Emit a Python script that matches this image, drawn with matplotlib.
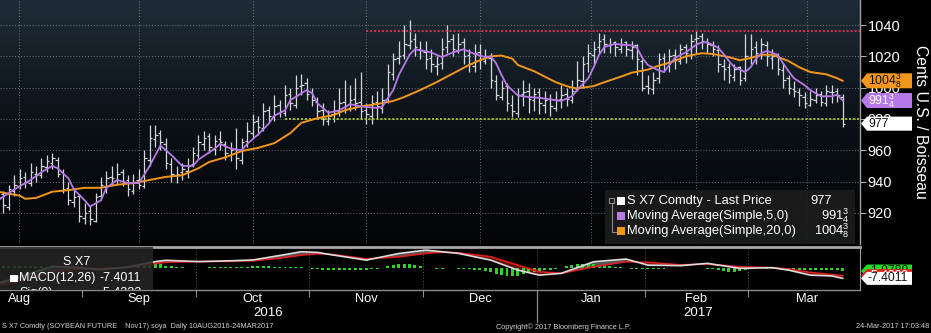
import numpy as np
import matplotlib.pyplot as plt
import matplotlib.transforms as mtransforms
from matplotlib.colors import LinearSegmentedColormap
from matplotlib.patches import Rectangle, Polygon

plt.rcParams['font.family'] = ['Liberation Sans', 'DejaVu Sans']

# S X7 Comdty daily bars, 10-Aug-2016 .. 24-Mar-2017, one row per month
month_names = ['Aug', 'Sep', 'Oct', 'Nov', 'Dec', 'Jan', 'Feb', 'Mar']
month_sessions = [16, 21, 21, 21, 21, 20, 19, 18]

opens = [
    935, 932, 924, 934, 937, 943, 939, 945, 944, 949, 952, 954, 946, 936, 927, 931,
    917, 921, 915, 931, 937, 943, 941, 946, 941, 934, 941, 937, 954, 967, 971, 964, 951, 944, 946, 947, 951,
    957, 964, 969, 961, 967, 964, 957, 961, 954, 966, 971, 979, 974, 986, 981, 989, 984, 996, 989, 1001, 1003,
    997, 991, 986, 979, 983, 985, 991, 987, 993, 991, 986, 982, 991, 987, 993, 1009, 1019, 1021, 1027, 1031, 1025,
    1023, 1019, 1014, 1016, 1026, 1031, 1024, 1029, 1021, 1014, 1023, 1017, 1019, 1004, 994, 1001, 989, 984, 996, 998, 992,
    997, 989, 993, 987, 993, 996, 992, 999, 1004, 1016, 1021, 1026, 1031, 1027, 1029, 1025, 1029, 1024, 1027, 1017,
    1001, 999, 1006, 1019, 1014, 1021, 1017, 1026, 1021, 1031, 1033, 1029, 1027, 1024, 1014, 1013, 1007, 1013, 1006,
    1019, 1026, 1021, 1027, 1019, 1021, 1011, 1006, 999, 997, 994, 989, 992, 996, 990, 997, 998, 994,
]
highs = [
    940, 934, 938, 944, 948, 946, 952, 950, 955, 957, 958, 956, 948, 940, 936, 932,
    926, 925, 933, 943, 947, 950, 952, 948, 944, 945, 948, 960, 976, 976, 973, 968, 955, 950, 952, 955, 962,
    970, 972, 971, 970, 972, 966, 965, 974, 968, 978, 983, 982, 990, 988, 995, 992, 1002, 1000, 1008, 1009, 1006,
    1000, 994, 990, 986, 992, 1000, 1005, 1002, 1006, 1010, 990, 995, 998, 1000, 1015, 1022, 1030, 1040, 1043, 1035, 1030,
    1030, 1025, 1020, 1032, 1040, 1034, 1035, 1032, 1025, 1028, 1028, 1025, 1022, 1008, 1005, 1003, 995, 1000, 1005, 1003, 1000,
    1000, 998, 996, 998, 1002, 1000, 1005, 1017, 1020, 1028, 1030, 1035, 1034, 1032, 1030, 1032, 1030, 1030, 1028, 1018,
    1008, 1010, 1022, 1022, 1025, 1025, 1028, 1028, 1034, 1036, 1035, 1032, 1030, 1027, 1018, 1016, 1015, 1014, 1034,
    1034, 1030, 1032, 1030, 1025, 1022, 1015, 1008, 1004, 1000, 997, 998, 1000, 998, 1002, 1002, 1000, 996,
]
lows = [
    926, 920, 922, 931, 935, 936, 937, 940, 942, 946, 948, 943, 933, 925, 924, 914,
    913, 912, 914, 928, 933, 938, 938, 937, 931, 932, 935, 936, 950, 962, 960, 948, 940, 939, 941, 942, 949,
    955, 960, 958, 957, 960, 954, 953, 948, 951, 962, 968, 970, 972, 978, 979, 981, 982, 986, 987, 995, 992,
    988, 980, 976, 976, 978, 982, 984, 985, 986, 980, 977, 977, 980, 984, 990, 1005, 1015, 1018, 1025, 1020, 1018,
    1012, 1010, 1008, 1012, 1022, 1020, 1022, 1015, 1010, 1010, 1012, 1015, 1000, 992, 992, 985, 981, 981, 988, 984, 985,
    983, 984, 982, 985, 987, 988, 990, 998, 1000, 1010, 1015, 1022, 1022, 1022, 1020, 1022, 1020, 1018, 1008, 998,
    996, 996, 1003, 1010, 1010, 1012, 1015, 1016, 1018, 1022, 1025, 1022, 1020, 1010, 1005, 1003, 1004, 1002, 1004,
    1015, 1015, 1018, 1014, 1012, 1008, 1000, 996, 994, 988, 987, 988, 990, 988, 988, 990, 991, 975,
]
closes = [
    930, 925, 935, 938, 942, 940, 946, 944, 950, 953, 955, 945, 935, 928, 930, 918,
    920, 916, 930, 938, 942, 942, 945, 940, 935, 940, 938, 955, 968, 970, 965, 952, 945, 945, 948, 950, 958,
    965, 968, 962, 966, 965, 958, 960, 955, 965, 972, 978, 975, 985, 982, 988, 985, 995, 990, 1000, 1002, 996,
    992, 985, 980, 982, 984, 990, 988, 992, 990, 985, 983, 990, 988, 992, 1010, 1018, 1020, 1028, 1030, 1026, 1024,
    1018, 1015, 1015, 1025, 1030, 1025, 1028, 1020, 1015, 1022, 1018, 1020, 1005, 995, 1000, 990, 985, 995, 997, 993, 996,
    990, 992, 988, 992, 995, 993, 998, 1005, 1015, 1022, 1025, 1030, 1028, 1028, 1026, 1028, 1025, 1026, 1018, 1000,
    1000, 1005, 1018, 1015, 1020, 1018, 1025, 1022, 1030, 1032, 1030, 1028, 1025, 1015, 1012, 1008, 1012, 1005, 1020,
    1025, 1022, 1028, 1020, 1020, 1012, 1005, 1000, 998, 995, 990, 993, 995, 991, 998, 997, 995, 977,
]

# simple moving averages (5 and 20 sessions), sampled by session number
ma5_bar = [0, 3, 6, 8, 10, 11, 13, 14, 16, 17, 19, 20, 22, 24, 26, 28, 30, 32, 34, 36, 37,
           40, 41, 43, 45, 46, 48, 50, 51, 53, 54, 57, 58, 59, 61, 63, 65, 67, 70, 71, 73,
           74, 76, 77, 80, 82, 84, 86, 88, 90, 91, 92, 93, 94, 96, 98, 100, 102, 104, 105,
           106, 107, 109, 110, 111, 112, 114, 115, 117, 118, 119, 120, 122, 123, 124, 125,
           127, 129, 130, 131, 133, 134, 135, 136, 138, 139, 140, 141, 142, 144, 145, 146,
           147, 149, 150, 151, 152, 154, 155, 156]
ma5_val = [928, 935, 941, 946, 950, 948.5, 942, 935, 928, 924, 928, 936, 941, 939, 939, 950, 963, 957, 950, 950, 954,
           961, 964, 961, 960, 964, 970, 977, 982, 985.5, 992, 998.5, 996.5, 990, 984, 985.5, 989.5, 988, 987, 988, 998.5,
           1008, 1021, 1024.5, 1022.5, 1019.5, 1022.5, 1024.5, 1021.5, 1019.5, 1020, 1015.5, 1008, 1001.5, 995, 994, 993.5, 992.5, 991.5, 993,
           994.5, 998.5, 1006, 1013, 1021, 1026, 1028, 1027.5, 1027, 1025.5, 1019, 1014.5, 1011, 1010, 1014.5, 1019,
           1022.5, 1027.5, 1029, 1029, 1025.5, 1021.5, 1017, 1013, 1010, 1013, 1018.5, 1022, 1023.5, 1021, 1015.5, 1010.5,
           1006, 1001.5, 998.5, 996.5, 994.5, 994.5, 995.5, 991.75]
ma20_bar = [0, 4, 5, 7, 10, 13, 16, 19, 22, 25, 28, 31, 34, 37, 39, 42, 45, 48, 51, 54, 56,
            59, 62, 64, 67, 70, 73, 75, 78, 81, 84, 87, 89, 91, 93, 95, 96, 99, 101, 103, 105,
            106, 107, 110, 112, 115, 117, 120, 122, 125, 127, 130, 132, 135, 137, 139, 141, 143,
            146, 148, 150, 153, 155, 156]
ma20_val = [933.5, 931, 929, 929.5, 933.5, 934.5, 936, 936, 938, 939, 941, 943, 944, 948.5, 952.5, 955.5, 959.5, 961.5, 964.5, 971, 977.5,
            980.5, 982.5, 985.5, 988, 989.5, 991.5, 994, 998.5, 1003.5, 1009, 1014.5, 1017.5, 1020, 1020.5, 1018.5, 1014.5, 1010.5, 1007, 1003.5, 1001,
            1000, 999.5, 1001, 1003.5, 1007, 1009.5, 1011.5, 1014, 1017, 1020, 1022, 1021.5, 1019.5, 1017.5, 1019, 1021, 1021,
            1017, 1013, 1010, 1008.5, 1006, 1004.375]

# MACD(12,26) and signal(9), sampled by session number, plus daily histogram
macd_bar = [0, 5, 10, 15, 19, 24, 29, 31, 37, 42, 47, 52, 56, 59, 62, 68, 74, 79, 82, 85,
            91, 96, 100, 104, 110, 116, 120, 126, 131, 137, 143, 146, 150, 154, 156]
macd_val = [-11, -5, 1.5, 0.5, -1, 1, 5, 6, 5, 5.5, 6.2, 9.5, 12.3, 11.8, 9.8, 6.1, 11, 13.5, 12.3, 11.1,
            6.1, -1.3, -5, -3.7, 4.9, 6.9, 2.4, 2, 3.7, 0, 0.5, -1.3, -5, -5.6, -7.4011]
sig_val = [-12.4, -8.5, -3, -0.5, 0, 0.5, 3.5, 4.5, 5, 5.2, 5.6, 7.5, 9.8, 10.8, 10.2, 7, 8.5, 11.1, 12, 11.5,
           8.6, 2.4, -2.5, -3.7, 1.2, 4.9, 4.4, 2.6, 3.2, 1.2, 0.5, -0.5, -3, -4.6, -5.4222]
hist = [
    1.5, 1.5, 2, 2, 2, 2, 2, 1.5, 1.5, 1, 1, 0.8, 0.8, 0.6, 0.6, 0.6,
    0.6, 0.6, 0.6, 0.6, 0.8, 0.8, 1, 1, 1.2, 1.5, 2.5, 3.5, 4, 3.5, 3, 2, 1.5, 1, 0.8, 0.6, 0.6,
    0.6, 0.6, 0.8, 0.8, 1, 1, 1, 1, 1.2, 1.2, 1.5, 1.5, 1.5, 1.5, 1.2, 1.2, 1, 1, 0.8, 0.8, 0.6,
    -0.6, -0.8, -1, -1.2, -1.2, -1.2, -1.2, -1.2, -1, -1, -1, -0.8, -0.6, 0.6, 1.5, 2.5, 3.5, 3.5, 3, 2.5, 1.5,
    0.6, 0.6, -0.6, -0.6, 0.6, 0.6, -0.6, -0.6, -0.8, -1, -1.5, -2, -3, -4, -5, -6, -6, -5.5, -4.5, -3.5, -2.5,
    -2, -1.5, -1, -0.6, 0.6, 1.5, 2.5, 3.5, 3.5, 3, 3, 2.5, 2, 1.5, 1, 0.8, 0.6, -0.6, -0.6, -0.8,
    -0.8, -0.8, -0.6, -0.6, 0.6, 0.6, 0.6, 0.6, 0.6, 0.6, 0.6, -0.6, -0.8, -1.2, -1.8, -2.5, -2.5, -2, -1.2,
    -0.6, 0.6, 0.6, -0.6, -0.6, -0.8, -1, -1.2, -1.5, -1.5, -1.5, -1.2, -1.2, -1, -1, -1, -1.2, -2,
]

# drawn trend levels: (price, first session)
resistance = (1036.5, 68)
support = (980, 53)

# positions of the month names under the chart (session units)
month_label_pos = [3.9, 26, 47, 68, 89, 109.5, 129, 149.5]

BAR = '#d2d6da'
PURPLE = '#b879e8'
ORANGE = '#f2961c'
GRID = '#8d959c'

W, H = 931, 333


def px_box(x0, y0, x1, y1):
    return [x0 / W, 1 - y1 / H, (x1 - x0) / W, (y1 - y0) / H]


def eighths(v):
    whole = int(v)
    num, den = int(round((v - whole) * 8)), 8
    if num == 0:
        return str(whole)
    while num % 2 == 0:
        num, den = num // 2, den // 2
    return r'$\mathregular{%d^{%d}_{%d}}$' % (whole, num, den)


fig = plt.figure(figsize=(W / 100, H / 100), dpi=100, facecolor='black')
ax = fig.add_axes(px_box(0, 0, 860, 244))
ax2 = fig.add_axes(px_box(0, 247, 860, 290), sharex=ax)

bars = np.arange(len(closes))
bounds = np.cumsum(month_sessions)[:-1] - 0.5
xmin, xmax = 0.36, 159.2
ymin, ymax = 900.1, 1056

# ---- price panel ----
bg = LinearSegmentedColormap.from_list('bg', ['#1f2c37', '#0b1117', '#030405'])
ax.imshow(np.linspace(0, 1, 256).reshape(-1, 1), cmap=bg, aspect='auto',
          extent=(xmin, xmax, ymin, ymax), origin='upper', zorder=0)
ax.set_xlim(xmin, xmax)
ax.set_ylim(ymin, ymax)
ax.set_facecolor('black')

ax.set_xticks(bounds)
ax.set_yticks(np.arange(920, 1041, 20))
ax.grid(True, color=GRID, linestyle=(0, (1, 2)), linewidth=0.7, alpha=0.75)
ax.set_axisbelow(True)
ax.yaxis.tick_right()
ax.tick_params(axis='y', colors='#b0b0b0', labelcolor='white', labelsize=10.5,
               length=4, width=0.8, direction='out', pad=1.5)
ax.tick_params(axis='x', length=0, labelbottom=False)
for side in ['top', 'left', 'bottom']:
    ax.spines[side].set_visible(False)
ax.spines['right'].set_color('#a0a0a0')
ax.spines['right'].set_linewidth(1)

ax.vlines(bars, lows, highs, color=BAR, lw=0.9, zorder=3)
ax.hlines(opens, bars - 0.45, bars, color=BAR, lw=0.9, zorder=3)
ax.hlines(closes, bars, bars + 0.45, color=BAR, lw=0.9, zorder=3)

ax.plot(ma20_bar, ma20_val, color=ORANGE, lw=1.4, zorder=4)
ax.plot(ma5_bar, ma5_val, color=PURPLE, lw=1.3, zorder=4)

ax.hlines(resistance[0], resistance[1], xmax, color='#d23452', lw=1.3,
          linestyles=(0, (1.2, 1)), zorder=3)
ax.hlines(support[0], support[1], xmax, color='#a6c43a', lw=1.3,
          linestyles=(0, (1.2, 1)), zorder=3)

# axis title on the far right
fig.text(921 / W, 1 - 122 / H, 'Cents U.S. / Boisseau', color='white', fontsize=11.3,
         rotation=270, ha='center', va='center')

# value tags on the price scale
tag_tr = mtransforms.blended_transform_factory(ax.transAxes, ax.transData)


def price_tag(axis, tr, v, half, face, text, tcolor, z):
    pts = [(861 / 860, v), (867 / 860, v + half), (912 / 860, v + half),
           (912 / 860, v - half), (867 / 860, v - half)]
    axis.add_patch(Polygon(pts, closed=True, facecolor=face, edgecolor='none',
                           transform=tr, clip_on=False, zorder=z))
    axis.text(868 / 860, v, text, transform=tr, ha='left', va='center',
              color=tcolor, fontsize=8.8, clip_on=False, zorder=z + 0.5)


price_tag(ax, tag_tr, ma20_val[-1], 4.8, ORANGE, eighths(ma20_val[-1]), '#111111', 20)
price_tag(ax, tag_tr, ma5_val[-1], 4.8, PURPLE, eighths(ma5_val[-1]), 'white', 21)
price_tag(ax, tag_tr, closes[-1], 4.5, 'white', eighths(closes[-1]), '#111111', 22)

# legend box
ax.add_patch(Rectangle((605 / 860, 0), 250 / 860, 54 / 244, transform=ax.transAxes,
                       facecolor='#1c1c1c', edgecolor='none', alpha=0.92, zorder=8))
ax.plot([611.5 / 860, 611.5 / 860, 616 / 860], [(244 - 203) / 244, (244 - 232) / 244, (244 - 232) / 244],
        transform=ax.transAxes, color='#8a8a8a', lw=0.8, zorder=9)
ax.add_patch(Rectangle((609 / 860, (244 - 203) / 244), 5 / 860, 5 / 244, transform=ax.transAxes,
                       facecolor='none', edgecolor='#8a8a8a', lw=0.8, zorder=9))
legend_rows = [
    ('S X7 Comdty - Last Price', eighths(closes[-1]), 'white', 832),
    ('Moving Average(Simple,5,0)', eighths(ma5_val[-1]), PURPLE, 849),
    ('Moving Average(Simple,20,0)', eighths(ma20_val[-1]), ORANGE, 849),
]
for k, (name, val, col, right) in enumerate(legend_rows):
    yp = 201 + 15 * k
    fy = (244 - yp) / 244
    ax.add_patch(Rectangle((617 / 860, (244 - yp - 4) / 244), 8 / 860, 8 / 244,
                           transform=ax.transAxes, facecolor=col, edgecolor='none', zorder=9))
    ax.text(627 / 860, fy, name, transform=ax.transAxes, color='white', fontsize=9.3,
            ha='left', va='center', zorder=9)
    ax.text(right / 860, fy, val, transform=ax.transAxes, color='white', fontsize=9.3,
            ha='right', va='center', zorder=9)

# ---- MACD panel ----
ax2.set_facecolor('black')
ax2.set_ylim(-16, 15.8)
ax2.set_xlim(xmin, xmax)
ax2.bar(bars, hist, width=0.55, color='#2fd12f', zorder=3)
mv, sv = np.array(macd_val), np.array(sig_val)
ax2.fill_between(macd_bar, mv, sv, where=mv >= sv, interpolate=True,
                 color='#9a9a9a', alpha=0.55, lw=0, zorder=2)
ax2.fill_between(macd_bar, mv, sv, where=mv < sv, interpolate=True,
                 color='#8c1616', alpha=0.7, lw=0, zorder=2)
ax2.plot(macd_bar, sig_val, color='#e01f1f', lw=1.2, zorder=4)
ax2.plot(macd_bar, macd_val, color='#dcdcdc', lw=1.2, zorder=4)

ax2.set_xticks(month_label_pos, month_names)
ax2.set_xticks(bounds, minor=True)
ax2.tick_params(axis='x', which='major', length=0, pad=2.5, labelsize=9.3, labelcolor='white')
ax2.tick_params(axis='x', which='minor', length=5, width=0.8, color='#8a8a8a', direction='out')
ax2.grid(True, which='minor', axis='x', color=GRID, linestyle=(0, (1, 2)), linewidth=0.7, alpha=0.6)
ax2.set_yticks([])
ax2.spines['left'].set_visible(False)
ax2.spines['top'].set_color('#a8a8a8')
ax2.spines['top'].set_linewidth(2)
ax2.spines['bottom'].set_color('#8a8a8a')
ax2.spines['bottom'].set_linewidth(1)
ax2.spines['right'].set_color('#a0a0a0')

xa = mtransforms.blended_transform_factory(ax2.transData, ax2.transAxes)
year_split = bounds[month_names.index('Jan') - 1]
ax2.plot([year_split, year_split], [0, -0.75], transform=xa, color='#8a8a8a',
         lw=0.9, clip_on=False)
ax2.text((xmin + year_split) / 2, -0.54, '2016', transform=xa, color='white',
         fontsize=9.5, ha='center', va='center')
ax2.text((year_split + xmax) / 2, -0.54, '2017', transform=xa, color='white',
         fontsize=9.5, ha='center', va='center')

# MACD legend box (bottom row is cut by the panel edge)
ax2.add_patch(Rectangle((0, 0), 153 / 860, 1, transform=ax2.transAxes,
                        facecolor='#262626', edgecolor='none', alpha=0.85, zorder=8))
ax2.text(77 / 860, 0.65, 'S X7', transform=ax2.transAxes, color='white', fontsize=9,
         ha='center', va='center', zorder=9)
for k, (name, val, col) in enumerate([('MACD(12,26)', macd_val[-1], 'white'),
                                      ('Sig(9)', sig_val[-1], '#e01f1f')]):
    yp = 278 + 15 * k
    fy = (290 - yp) / 43
    ax2.add_patch(Rectangle((10 / 860, fy - 3.5 / 43), 8 / 860, 7 / 43, transform=ax2.transAxes,
                            facecolor=col, edgecolor='none', zorder=9))
    ax2.text(19 / 860, fy, name, transform=ax2.transAxes, color='white', fontsize=9,
             ha='left', va='center', zorder=9, clip_on=True)
    ax2.text(100 / 860, fy, '%.4f' % val, transform=ax2.transAxes, color='white', fontsize=9,
             ha='left', va='center', zorder=9, clip_on=True)

tag2 = mtransforms.blended_transform_factory(ax2.transAxes, ax2.transData)
h_last = macd_val[-1] - sig_val[-1]
price_tag(ax2, tag2, h_last, 4.8, '#22dd22', '%.4f' % h_last, '#111111', 20)
price_tag(ax2, tag2, sig_val[-1], 4.8, '#e01f1f', '%.4f' % sig_val[-1], 'white', 21)
price_tag(ax2, tag2, macd_val[-1], 4.8, 'white', '%.4f' % macd_val[-1], '#111111', 22)

# footer
fig.text(2 / W, 1 - 327 / H, 'S X7 Comdty (SOYBEAN FUTURE    Nov17) soya  Daily 10AUG2016-24MAR2017',
         color='#d0d0d0', fontsize=5.3, ha='left', va='center')
fig.text(563 / W, 1 - 327 / H, 'Copyright\u00a9 2017 Bloomberg Finance L.P.',
         color='#d0d0d0', fontsize=5.3, ha='center', va='center')
fig.text(929 / W, 1 - 327 / H, '24-Mar-2017 17:03:48',
         color='#d0d0d0', fontsize=5.3, ha='right', va='center')

fig.savefig('out.png', dpi=100, facecolor='black')
